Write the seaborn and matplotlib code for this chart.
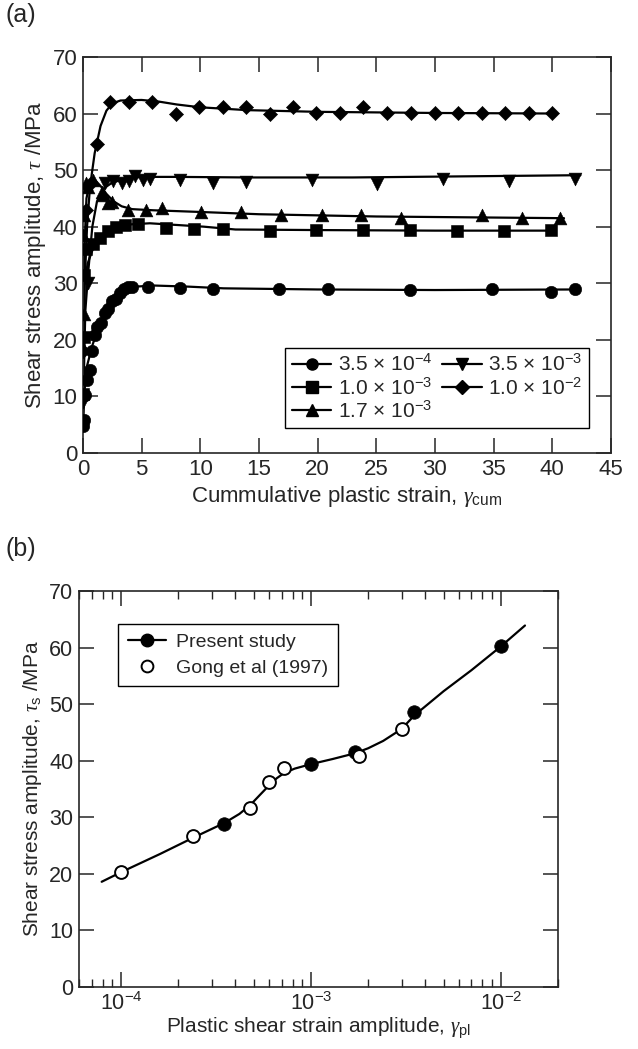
import matplotlib
matplotlib.use('Agg')
import matplotlib.pyplot as plt
from matplotlib.lines import Line2D
from matplotlib.ticker import MultipleLocator, LogLocator, NullFormatter
import seaborn as sns

# (a) 누적 소성 변형률에 따른 전단 응력 (마커 = 측정값)
c_x = [0.02, 0.05, 0.15, 0.35, 0.6, 0.75, 1.0, 1.2, 1.5, 1.9, 2.1, 2.45, 2.8, 3.15,
       3.5, 3.85, 4.15, 5.55, 8.3, 11.1, 16.7, 20.9, 27.9, 34.9, 39.9, 41.9]
c_y = [4.8, 5.8, 10.2, 12.9, 14.7, 18.0, 20.8, 22.3, 23.0, 24.7, 25.5, 26.8, 27.3, 28.3,
       28.9, 29.3, 29.4, 29.3, 29.2, 28.9, 28.9, 28.9, 28.8, 28.9, 28.5, 28.9]
s_x = [0.02, 0.05, 0.1, 0.3, 0.85, 1.45, 2.15, 2.85, 3.6, 4.7, 7.07, 9.45, 11.9,
       15.9, 19.9, 23.9, 27.9, 31.9, 35.9, 39.9]
s_y = [10.5, 20.5, 31.5, 36.0, 37.0, 38.0, 39.2, 39.9, 40.3, 40.4, 39.8, 39.6, 39.6,
       39.3, 39.4, 39.5, 39.4, 39.3, 39.3, 39.5]
tu_x = [0.02, 0.04, 0.05, 0.1, 0.26, 0.45, 0.88, 1.6, 1.73, 2.16, 2.44, 3.86, 5.37, 6.7,
        10.1, 13.5, 16.9, 20.4, 23.7, 27.1, 34.0, 37.4, 40.7]
tu_y = [18.6, 38.5, 24.5, 42.0, 47.7, 47.0, 48.2, 46.2, 45.6, 44.1, 44.4, 42.9, 43.0, 43.3,
        42.6, 42.6, 42.0, 42.1, 42.1, 41.6, 42.1, 41.6, 41.6]
td_x = [0.02, 0.45, 1.9, 2.6, 3.3, 3.9, 4.4, 5.1, 5.7, 8.26, 11.1, 13.9, 19.5, 25.1,
        30.7, 36.3, 41.9]
td_y = [9.0, 30.0, 47.8, 48.0, 47.8, 48.1, 49.0, 48.3, 48.5, 48.2, 47.8, 47.9, 48.2, 47.5,
        48.5, 48.1, 48.5]
d_x = [0.03, 0.3, 0.6, 1.16, 2.3, 3.9, 5.9, 7.95, 9.9, 11.9, 13.9, 15.9, 17.9, 19.9,
       21.9, 23.9, 25.9, 28.0, 30.0, 32.0, 34.0, 36.0, 38.0, 40.0]
d_y = [18.0, 43.0, 47.5, 54.6, 62.0, 62.0, 62.0, 60.0, 61.2, 61.1, 61.2, 60.0, 61.2, 60.1,
       60.1, 61.2, 60.1, 60.1, 60.1, 60.1, 60.1, 60.1, 60.1, 60.1]

# (a) 그림에서 읽은 곡선 좌표
c_line_x = [0.02, 0.1, 0.3, 0.8, 1.3, 2.0, 2.7, 3.5, 4.5, 6.0, 9.0, 12.0, 20.0, 30.0, 42.0]
c_line_y = [4.0, 10.0, 15.0, 19.0, 22.0, 25.0, 27.2, 28.7, 29.4, 29.6, 29.4, 29.1, 28.9, 28.8, 28.9]
s_line_x = [0.02, 0.06, 0.15, 0.4, 0.8, 1.3, 2.0, 3.0, 4.0, 5.7, 8.0, 10.3, 13.0, 20.0, 30.0, 40.0]
s_line_y = [10.0, 22.0, 30.0, 33.5, 35.8, 37.4, 38.8, 39.9, 40.4, 40.6, 40.3, 40.0, 39.5, 39.4, 39.3, 39.3]
tu_line_x = [0.02, 0.1, 0.3, 0.6, 1.0, 1.5, 2.0, 2.6, 3.3, 4.2, 6.0, 10.0, 15.0, 25.0, 41.0]
tu_line_y = [15.0, 35.0, 45.0, 48.0, 48.3, 47.2, 45.8, 44.5, 43.6, 43.1, 42.9, 42.6, 42.2, 41.8, 41.5]
td_line_x = [0.02, 0.2, 0.45, 0.8, 1.2, 1.8, 2.5, 3.5, 5.0, 8.0, 14.0, 23.0, 42.4]
td_line_y = [8.0, 25.0, 32.0, 40.0, 44.5, 46.8, 47.8, 48.4, 48.8, 48.8, 48.7, 48.7, 49.1]
d_line_x = [0.02, 0.15, 0.35, 0.6, 1.0, 1.5, 2.0, 2.5, 3.2, 5.0, 6.5, 8.0, 10.0, 14.0, 20.0, 30.0, 40.3]
d_line_y = [12.0, 30.0, 40.0, 47.0, 53.0, 57.8, 60.5, 61.8, 62.3, 62.4, 62.1, 61.6, 61.1, 60.6, 60.3, 60.1, 60.0]

labels_a = ['3.5 × 10$^{-4}$', '1.0 × 10$^{-3}$', '1.7 × 10$^{-3}$',
            '3.5 × 10$^{-3}$', '1.0 × 10$^{-2}$']

# (b) 소성 전단 변형률 진폭에 따른 포화 응력
present_x = [3.5e-4, 1.0e-3, 1.7e-3, 3.5e-3, 1.0e-2]
present_y = [28.9, 39.5, 41.6, 48.7, 60.3]
gong_x = [1.0e-4, 2.4e-4, 4.8e-4, 6.0e-4, 7.2e-4, 1.8e-3, 3.0e-3]
gong_y = [20.4, 26.7, 31.6, 36.2, 38.7, 40.9, 45.6]
fit_x = [7.9e-5, 1.0e-4, 1.6e-4, 2.4e-4, 3.5e-4, 4.2e-4, 4.8e-4, 5.4e-4, 6.0e-4, 6.6e-4,
         7.2e-4, 8.2e-4, 1.0e-3, 1.3e-3, 1.7e-3, 2.0e-3, 2.4e-3, 3.0e-3, 3.5e-3, 5.0e-3,
         7.0e-3, 1.0e-2, 1.34e-2]
fit_y = [18.6, 20.3, 23.5, 26.4, 29.0, 30.6, 32.2, 34.0, 35.6, 36.9, 37.8, 38.6, 39.4, 40.3,
         41.3, 42.2, 43.5, 45.6, 48.0, 52.3, 56.0, 60.2, 63.9]

sns.set_style('ticks')
plt.rcParams['font.family'] = ['Liberation Sans', 'DejaVu Sans']
plt.rcParams['mathtext.fontset'] = 'custom'
plt.rcParams['mathtext.rm'] = 'Liberation Sans'
plt.rcParams['mathtext.sf'] = 'Liberation Sans'
plt.rcParams['mathtext.it'] = 'Liberation Serif:italic'
plt.rcParams['axes.linewidth'] = 1.2

fig = plt.figure(figsize=(6.38, 10.49), dpi=100)
ax1 = fig.add_axes([0.130, 0.5682, 0.8276, 0.3775])
ax2 = fig.add_axes([0.1238, 0.0591, 0.7508, 0.3775])

LW = 1.6
FS = 16
series = [
    (c_x, c_y, c_line_x, c_line_y, 'o', 80),
    (s_x, s_y, s_line_x, s_line_y, 's', 72),
    (tu_x, tu_y, tu_line_x, tu_line_y, '^', 85),
    (td_x, td_y, td_line_x, td_line_y, 'v', 85),
    (d_x, d_y, d_line_x, d_line_y, 'D', 52),
]
handles = []
for (mx, my, lx, ly, mk, sz), lab in zip(series, labels_a):
    sns.lineplot(x=lx, y=ly, color='k', lw=LW, sort=False, estimator=None, ax=ax1)
    sns.scatterplot(x=mx, y=my, marker=mk, s=sz, color='k', edgecolor='k',
                    linewidth=0.4, ax=ax1, zorder=3)
    handles.append(Line2D([], [], color='k', lw=LW, marker=mk,
                          markersize=8 if mk != 'D' else 7.5, label=lab))

ax1.set_xlim(0, 45)
ax1.set_ylim(0, 70)
ax1.xaxis.set_major_locator(MultipleLocator(5))
ax1.yaxis.set_major_locator(MultipleLocator(10))
ax1.tick_params(direction='in', length=11, width=1.1, top=True, right=True,
                labelsize=FS, pad=4)
ax1.set_xlabel(r'Cummulative plastic strain, $\gamma_{\mathrm{cum}}$', fontsize=FS, labelpad=3)
ax1.set_ylabel(r'Shear stress amplitude, $\tau$ /MPa', fontsize=FS, labelpad=3)
leg1 = ax1.legend(handles=handles, ncol=2, loc='lower right', bbox_to_anchor=(0.958, 0.063),
                  borderaxespad=0, fontsize=15, frameon=True, fancybox=False,
                  edgecolor='k', handlelength=1.9, handletextpad=0.3, columnspacing=0.5,
                  labelspacing=0.1, borderpad=0.3)
leg1.get_frame().set_linewidth(1.0)
leg1.get_frame().set_alpha(1)

# (b)
ax2.set_xscale('log')
sns.lineplot(x=fit_x, y=fit_y, color='k', lw=LW, sort=False, estimator=None, ax=ax2)
sns.scatterplot(x=present_x, y=present_y, marker='o', s=95, color='k', edgecolor='k',
                linewidth=0.5, ax=ax2, zorder=3)
sns.scatterplot(x=gong_x, y=gong_y, marker='o', s=85, color='white', edgecolor='k',
                linewidth=1.4, ax=ax2, zorder=3)
ax2.set_xlim(6e-5, 2e-2)
ax2.set_ylim(0, 70)
ax2.yaxis.set_major_locator(MultipleLocator(10))
ax2.xaxis.set_major_locator(LogLocator(base=10, numticks=10))
ax2.xaxis.set_minor_locator(LogLocator(base=10, subs=range(2, 10), numticks=20))
ax2.xaxis.set_minor_formatter(NullFormatter())
ax2.tick_params(which='major', direction='in', length=11, width=1.1, top=True, right=True,
                labelsize=15.5, pad=4)
ax2.tick_params(which='minor', direction='in', length=6, width=1.0, top=True, right=True)
ax2.set_xlabel(r'Plastic shear strain amplitude, $\gamma_{\mathrm{pl}}$', fontsize=15, labelpad=0)
ax2.set_ylabel(r'Shear stress amplitude, $\tau_{\mathrm{s}}$ /MPa', fontsize=15, labelpad=4)
h_present = Line2D([], [], color='k', lw=LW, marker='o', markersize=9, label='Present study')
h_gong = Line2D([], [], color='k', lw=0, marker='o', markersize=8.5, markerfacecolor='white',
                markeredgewidth=1.4, label='Gong et al (1997)')
leg2 = ax2.legend(handles=[h_present, h_gong], loc='upper left', bbox_to_anchor=(0.081, 0.917),
                  borderaxespad=0, fontsize=14, frameon=True, fancybox=False, edgecolor='k',
                  handlelength=2.0, handletextpad=0.5, labelspacing=0.4, borderpad=0.5)
leg2.get_frame().set_linewidth(1.0)
leg2.get_frame().set_alpha(1)

fig.text(0.008, 0.997, '(a)', fontsize=18, va='top', ha='left')
fig.text(0.008, 0.488, '(b)', fontsize=18, va='top', ha='left')

fig.savefig('out.png', dpi=100)
